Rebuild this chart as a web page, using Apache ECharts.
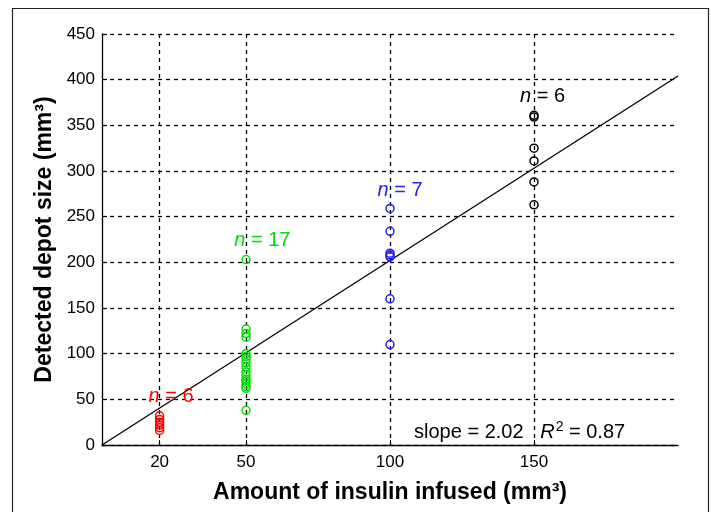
<!DOCTYPE html>
<html>
<head>
<meta charset="utf-8">
<script src="https://cdn.jsdelivr.net/npm/echarts@6/dist/echarts.min.js"></script>
<style>
  html, body { margin: 0; padding: 0; background: #fff; }
  #chart { width: 711px; height: 512px; }
</style>
</head>
<body>
<div id="chart"></div>
<script>
// data
const xTicks = [20, 50, 100, 150]
const red20 = [32, 28, 25, 22, 19, 16]
const green50 = [203, 127, 122, 118, 100, 97, 94, 90, 85, 80, 76, 72, 70, 67, 64, 62, 38]
const blue100 = [259, 234, 210, 208, 206, 160, 110]
const black150 = [361, 359, 325, 311, 288, 263]
const fitLine = [[0, 0], [200, 404]]
// [x, y, colour, count] for the n labels
const nLabels = [
  [24, 53, '#ff0000', 6],
  [55.7, 224, '#00e000', 17],
  [103.5, 279, '#1e1eff', 7],
  [153, 382, '#000000', 6]
]

const font = '"Liberation Sans", Arial, sans-serif'

const groupSeries = (x, vals, color) => ({
  type: 'scatter',
  symbol: 'circle',
  symbolSize: 8,
  itemStyle: { color: 'transparent', borderColor: color, borderWidth: 1.5, opacity: 1 },
  data: vals.map(v => [x, v]),
  z: 4
})

const chart = echarts.init(document.getElementById('chart'))
chart.setOption({
  animation: false,
  backgroundColor: '#fff',
  textStyle: { fontFamily: font },
  grid: { left: 102, right: 33, top: 34, bottom: 67 },
  graphic: [{
    type: 'rect',
    shape: { x: 12.5, y: 8.5, width: 696, height: 520 },
    style: { fill: 'none', stroke: '#222', lineWidth: 1.2 },
    silent: true
  }],
  xAxis: {
    type: 'value',
    min: 0,
    max: 200,
    name: 'Amount of insulin infused (mm³)',
    nameLocation: 'middle',
    nameGap: 36,
    nameTextStyle: { fontSize: 23, fontWeight: 'bold', color: '#000', fontFamily: font },
    axisLine: { lineStyle: { color: '#000', width: 1.3 } },
    axisTick: { inside: true, length: 5, customValues: xTicks, lineStyle: { color: '#000' } },
    axisLabel: { customValues: xTicks, color: '#000', fontSize: 17, margin: 9, fontFamily: font },
    splitLine: { show: true, lineStyle: { color: '#000', type: [4, 4], width: 1.3 } }
  },
  yAxis: {
    type: 'value',
    min: 0,
    max: 450,
    interval: 50,
    name: 'Detected depot size (mm³)',
    nameLocation: 'middle',
    nameGap: 44,
    nameTextStyle: { fontSize: 23, fontWeight: 'bold', color: '#000', fontFamily: font },
    axisLine: { show: true, lineStyle: { color: '#000', width: 1.3 } },
    axisTick: { show: true, inside: true, length: 5, lineStyle: { color: '#000' } },
    axisLabel: { color: '#000', fontSize: 17, margin: 7, fontFamily: font },
    splitLine: { show: true, lineStyle: { color: '#000', type: [4, 4], width: 1.3 } }
  },
  series: [
    {
      type: 'line',
      data: fitLine,
      symbol: 'none',
      lineStyle: { color: '#000', width: 1.3 },
      z: 3
    },
    groupSeries(20, red20, '#ff0000'),
    groupSeries(50, green50, '#00e000'),
    groupSeries(100, blue100, '#1e1eff'),
    groupSeries(150, black150, '#000000'),
    {
      type: 'scatter',
      symbolSize: 0,
      silent: true,
      z: 6,
      itemStyle: { opacity: 1 },
      data: nLabels.map(d => ({
        value: [d[0], d[1]],
        label: {
          show: true,
          position: 'inside',
          formatter: '{i|n}{t| = ' + d[3] + '}',
          rich: {
            i: { fontStyle: 'italic', fontSize: 20, color: d[2], fontFamily: font },
            t: { fontSize: 20, color: d[2], fontFamily: font }
          }
        }
      }))
    },
    {
      type: 'scatter',
      symbolSize: 0,
      silent: true,
      z: 6,
      itemStyle: { opacity: 1 },
      data: [{
        value: [145, 14],
        label: {
          show: true,
          position: 'inside',
          formatter: '{n|slope = 2.02   }{i|R}{s|2}{n| = 0.87}',
          rich: {
            n: { fontSize: 20, color: '#000', fontFamily: font },
            i: { fontSize: 20, color: '#000', fontStyle: 'italic', fontFamily: font },
            s: { fontSize: 14, color: '#000', fontFamily: font, verticalAlign: 'top', padding: [0, 0, 10, 1] }
          }
        }
      }]
    }
  ]
})
</script>
</body>
</html>
